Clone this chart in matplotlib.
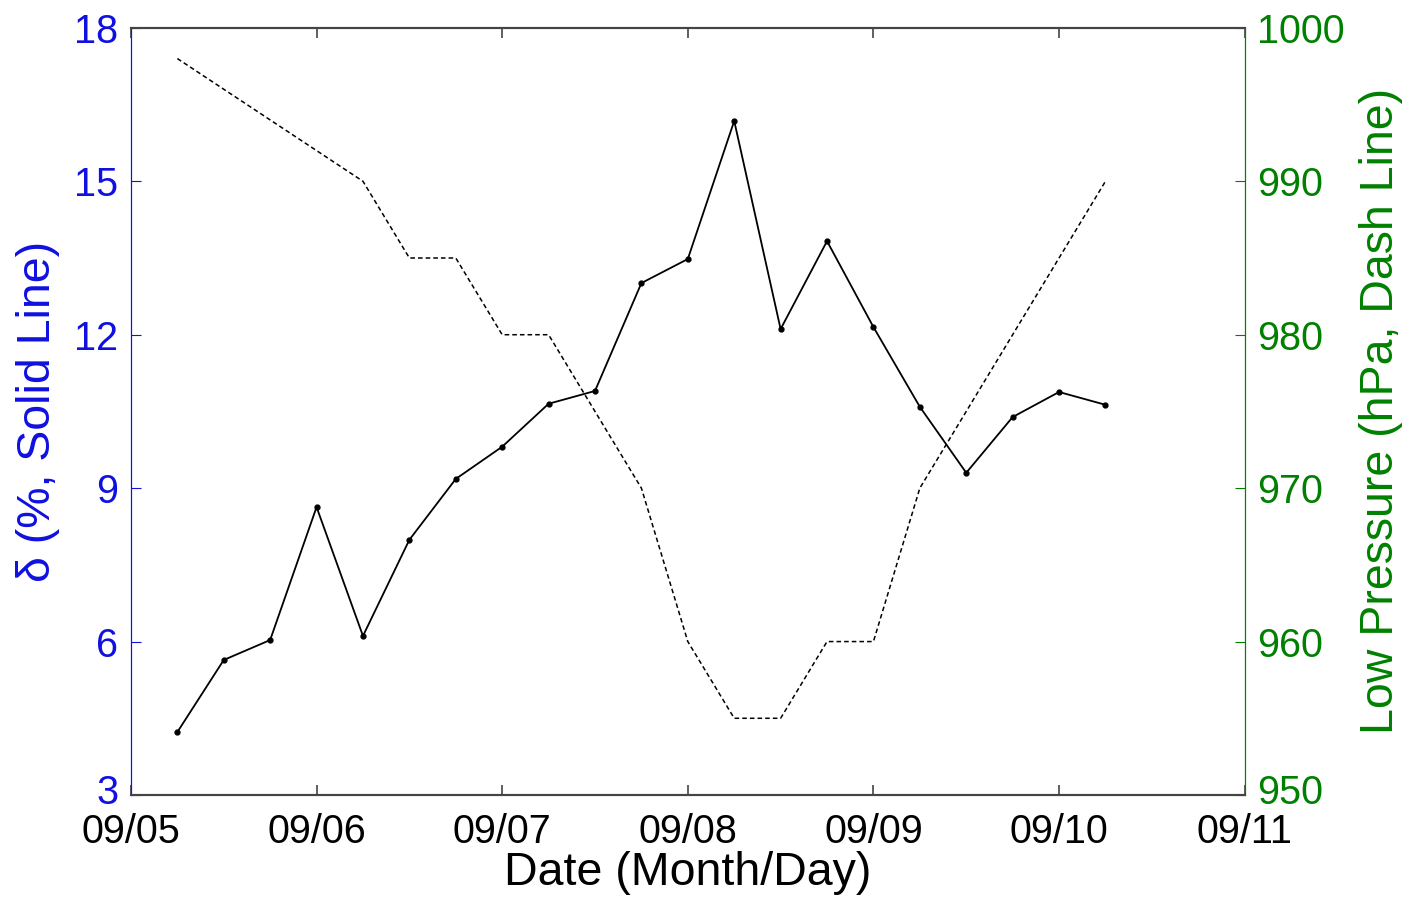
import matplotlib.pyplot as plt
from matplotlib.transforms import ScaledTranslation

plt.rcParams['font.family'] = ['Liberation Sans', 'DejaVu Sans']

# observation times, in days after 09/05 00:00 (every 6 hours)
days = [0.25, 0.5, 0.75, 1.0, 1.25, 1.5, 1.75, 2.0, 2.25, 2.5, 2.75,
        3.0, 3.25, 3.5, 3.75, 4.0, 4.25, 4.5, 4.75, 5.0, 5.25]
delta = [4.23, 5.64, 6.03, 8.63, 6.11, 7.99, 9.18, 9.81, 10.65, 10.90, 13.01,
         13.48, 16.18, 12.11, 13.83, 12.15, 10.59, 9.30, 10.39, 10.88, 10.63]
pressure = [998, 996, 994, 992, 990, 985, 985, 980, 980, 975, 970,
            960, 955, 955, 960, 960, 970, 975, 980, 985, 990]
date_labels = ['09/05', '09/06', '09/07', '09/08', '09/09', '09/10', '09/11']

blue = '#1010e0'
green = '#008000'

fig = plt.figure(figsize=(14.08, 8.99), dpi=100)
ax = fig.add_axes([0.093, 0.1157, 0.791, 0.8533])
ax2 = ax.twinx()

ax.plot(days, delta, color='black', linewidth=1.3, marker='o', markersize=3.5)
ax2.plot(days, pressure, color='black', linewidth=1.1, linestyle=(0, (3, 2)))

ax.set_xlim(0, 6)
ax.set_xticks(range(len(date_labels)))
ax.set_xticklabels(date_labels)
ax.set_ylim(3, 18)
ax.set_yticks([3, 6, 9, 12, 15, 18])
ax2.set_ylim(950, 1000)
ax2.set_yticks([950, 960, 970, 980, 990, 1000])

ax.tick_params(axis='x', direction='in', top=True, length=7, width=1.2,
               color='#444444', labelsize=28.5, pad=13)
ax.tick_params(axis='y', direction='in', length=7, colors=blue, labelsize=28.5, pad=9)
ax2.tick_params(axis='y', direction='in', length=7, colors=green, labelsize=28.5, pad=9)

# lift the lowest y labels a touch so they clear the date labels
for a in (ax, ax2):
    lbl = a.get_yticklabels()[0]
    lbl.set_transform(lbl.get_transform() + ScaledTranslation(0, 4 / 72, fig.dpi_scale_trans))

for a in (ax, ax2):
    a.spines['top'].set_color('#444444')
    a.spines['bottom'].set_color('#444444')
    a.spines['top'].set_linewidth(1.5)
    a.spines['bottom'].set_linewidth(1.5)
ax.spines['left'].set_color(blue)
ax2.spines['left'].set_color(blue)
ax.spines['right'].set_color(green)
ax2.spines['right'].set_color(green)

ax.set_xlabel('Date (Month/Day)', fontsize=33.5, labelpad=0)
ax.set_ylabel('δ (%, Solid Line)', fontsize=33.5, color=blue, labelpad=10)
ax2.set_ylabel('Low Pressure (hPa, Dash Line)', fontsize=33.5, color=green, labelpad=10)

fig.savefig('out.png', dpi=100)
